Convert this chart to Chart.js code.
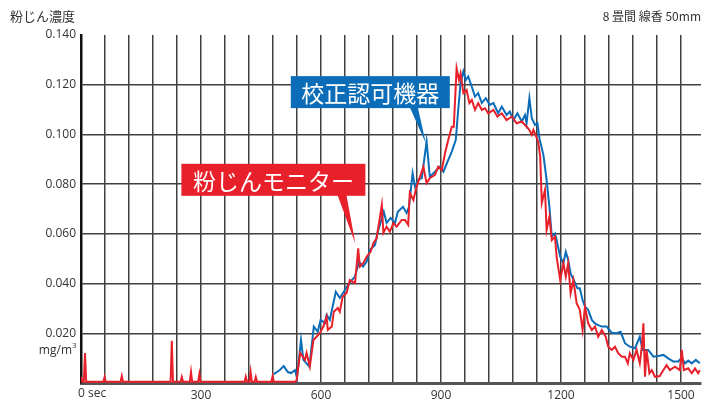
<!DOCTYPE html>
<html>
<head>
<meta charset="utf-8">
<script src="https://cdn.jsdelivr.net/npm/chart.js@4/dist/chart.umd.min.js"></script>
<style>
  html, body { margin: 0; padding: 0; background: #fff; }
  #wrap { width: 703px; height: 402px; position: relative; }
</style>
</head>
<body>
<div id="wrap"><canvas id="chart"></canvas></div>
<script>
// 粉じんモニター (red)
var redTimes = [0, 3, 7, 10, 13, 56, 59, 62, 99, 102, 105, 224, 227, 230, 249, 252, 255, 272, 275, 278, 293, 296, 299,
	409, 412, 415, 421, 424, 427, 434, 437, 440, 476, 479, 482, 536,
	539, 548, 560, 564, 572, 581, 589, 597, 606, 614, 617, 627, 632, 642, 647, 654, 664, 672, 685, 693, 697,
	706, 714, 724, 731, 739, 752, 756, 764, 772, 781, 789, 802, 810, 818, 822, 831, 839, 856, 864, 872,
	885, 893, 902, 910, 918, 927, 932, 939, 945, 949, 956, 964, 971, 977, 985, 993, 1002, 1010, 1018,
	1031, 1041, 1052, 1064, 1077, 1089, 1102, 1114, 1121, 1127, 1131, 1138, 1143, 1148, 1152, 1160,
	1164, 1171, 1177, 1185, 1189, 1198, 1206, 1212, 1218, 1224, 1231, 1239, 1247, 1254, 1260, 1268,
	1277, 1285, 1293, 1302, 1312, 1318, 1327, 1335, 1343, 1352, 1360, 1367, 1372, 1381, 1389, 1397,
	1402, 1406, 1410, 1414, 1421, 1427, 1435, 1447, 1456, 1464, 1472, 1485, 1497, 1502, 1507, 1518,
	1527, 1535, 1543, 1547];
var redValues = [0.0025, 0.0005, 0.0005, 0.0121, 0.0005, 0.0005, 0.0024, 0.0005, 0.0005, 0.0028, 0.0005, 0.0005, 0.017, 0.0005, 0.0005, 0.0024, 0.0005, 0.0005, 0.0045, 0.0005, 0.0005, 0.0036, 0.0005,
	0.0005, 0.0025, 0.0005, 0.0005, 0.0045, 0.0005, 0.0005, 0.0024, 0.0005, 0.0005, 0.0028, 0.0005, 0.0005,
	0.0012, 0.0121, 0.0093, 0.0121, 0.0066, 0.0173, 0.0186, 0.020, 0.0227, 0.0267, 0.0213, 0.0227, 0.0287, 0.0302, 0.0287, 0.0347, 0.0362, 0.0414, 0.0402, 0.0542, 0.0468,
	0.0483, 0.0508, 0.0528, 0.0562, 0.0582, 0.0716, 0.0604, 0.0629, 0.0609, 0.0643, 0.0629, 0.0656, 0.0656, 0.0636, 0.0765, 0.0736, 0.0790, 0.0870, 0.0804, 0.0824,
	0.0837, 0.0870, 0.0857, 0.0924, 0.0978, 0.1031, 0.1031, 0.1266, 0.1219, 0.1246, 0.1166, 0.1179, 0.1126, 0.1139, 0.1099, 0.1126, 0.1099, 0.1105, 0.1085,
	0.1099, 0.1072, 0.1085, 0.1058, 0.1072, 0.1045, 0.1052, 0.1031, 0.1018, 0.0998, 0.1018, 0.0991, 0.0971, 0.0911, 0.0724, 0.0777,
	0.0616, 0.0669, 0.0575, 0.0589, 0.0508, 0.0414, 0.0482, 0.0428, 0.0482, 0.0361, 0.0414, 0.0321, 0.0294, 0.0213, 0.0307, 0.0240,
	0.0213, 0.0227, 0.0186, 0.0213, 0.0186, 0.0146, 0.0133, 0.0146, 0.0120, 0.0106, 0.0106, 0.0079, 0.0120, 0.0093, 0.0133, 0.0079,
	0.0146, 0.0240, 0.0025, 0.0133, 0.0039, 0.0052, 0.0025, 0.0028, 0.0052, 0.0072, 0.0052, 0.0066, 0.0052, 0.0133, 0.0052, 0.0059,
	0.0039, 0.0059, 0.0039, 0.0052];

// 校正認可機器 (blue)
var blueTimes = [482, 497, 507, 517, 525, 535, 540, 550, 556, 571, 582, 592, 599, 610, 614, 622, 637, 647, 655, 665, 677, 685, 695,
	705, 714, 722, 735, 742, 757, 764, 774, 785, 792, 805, 814, 820, 829, 835, 843, 852, 864, 872,
	885, 897, 906, 918, 927, 937, 943, 949, 956, 962, 968, 977, 985, 993, 1002, 1012, 1022,
	1031, 1043, 1052, 1064, 1072, 1081, 1091, 1102, 1110, 1114, 1121, 1127, 1135, 1141, 1146, 1156,
	1164, 1171, 1177, 1185, 1189, 1198, 1206, 1212, 1218, 1224, 1232, 1241, 1247, 1254, 1260, 1268,
	1277, 1285, 1293, 1302, 1314, 1327, 1339, 1349, 1360, 1372, 1385, 1397, 1404, 1418, 1431, 1443,
	1456, 1468, 1481, 1493, 1502, 1510, 1518, 1527, 1537, 1547];
var blueValues = [0.0036, 0.0052, 0.0068, 0.0044, 0.0040, 0.0052, 0.0020, 0.0173, 0.0093, 0.0066, 0.0227, 0.0206, 0.0254, 0.0241, 0.0274, 0.0254, 0.0367, 0.0342, 0.0362, 0.0388, 0.0414, 0.0428, 0.0488,
	0.0468, 0.0488, 0.0535, 0.0555, 0.0609, 0.0689, 0.0644, 0.0664, 0.0644, 0.0689, 0.0709, 0.0684, 0.0709, 0.0844, 0.0790, 0.0817, 0.0824, 0.0971, 0.0830,
	0.0850, 0.0870, 0.0850, 0.0897, 0.0931, 0.0978, 0.1099, 0.1206, 0.1253, 0.1219, 0.1233, 0.1192, 0.1152, 0.1166, 0.1126, 0.1146, 0.1119,
	0.1126, 0.1085, 0.1112, 0.1078, 0.1092, 0.1058, 0.1085, 0.1052, 0.1078, 0.1045, 0.1146, 0.1065, 0.1038, 0.1045, 0.0985, 0.0918,
	0.0817, 0.0709, 0.0589, 0.0602, 0.0575, 0.0508, 0.0482, 0.0528, 0.0495, 0.0441, 0.0414, 0.0381, 0.0381, 0.0334, 0.0307, 0.0294,
	0.0254, 0.0240, 0.0233, 0.0227, 0.0227, 0.0202, 0.0200, 0.0206, 0.0160, 0.0146, 0.0140, 0.0186, 0.0133, 0.0133, 0.0106, 0.0109,
	0.0113, 0.0099, 0.0086, 0.0086, 0.0103, 0.0079, 0.0090, 0.0079, 0.0093, 0.0079];

var xGridSeconds = [0, 60, 120, 180, 240, 300, 360, 420, 480, 540, 600, 660, 720, 780, 840, 900, 960, 1020, 1080, 1140, 1200, 1260, 1320, 1380, 1440, 1500];
var xLabelSeconds = [300, 600, 900, 1200, 1500];
var yTicks = [0, 0.02, 0.04, 0.06, 0.08, 0.10, 0.12, 0.14];

var redLabel = '粉じんモニター';
var blueLabel = '校正認可機器';
var yTitle = '粉じん濃度';
var conditionText = '8 畳間 線香 50mm';

function toPoints(ts, vs) {
	var pts = [];
	for (var i = 0; i < ts.length; i++) pts.push({x: ts[i], y: vs[i]});
	return pts;
}

var RED = '#e8202a';
var BLUE = '#0b6db8';
var TEXT = '#333333';
var GRID = '#404040';
var FONT = '"Open Sans", "Noto Sans CJK JP", sans-serif';
var JPFONT = '"Noto Sans CJK JP", sans-serif';

function callout(ctx, tipX, tipY, box, baseL, baseR, color, text) {
	ctx.save();
	ctx.fillStyle = color;
	ctx.fillRect(box.x, box.y, box.w, box.h);
	ctx.beginPath();
	ctx.moveTo(baseL, box.y + box.h - 1);
	ctx.lineTo(baseR, box.y + box.h - 1);
	ctx.lineTo(tipX, tipY);
	ctx.closePath();
	ctx.fill();
	ctx.fillStyle = '#ffffff';
	ctx.font = '23px ' + JPFONT;
	ctx.textAlign = 'center';
	ctx.textBaseline = 'middle';
	ctx.fillText(text, box.x + box.w / 2, box.y + box.h / 2 + 1);
	ctx.restore();
}

var extras = {
	id: 'extras',
	afterDraw: function(chart) {
		var ctx = chart.ctx;
		var xs = chart.scales.x, ys = chart.scales.y;
		ctx.save();
		ctx.fillStyle = TEXT;
		ctx.font = '13px ' + JPFONT;
		ctx.textBaseline = 'middle';
		ctx.textAlign = 'left';
		ctx.fillText(yTitle, 10, 16);
		ctx.font = '12px ' + JPFONT;
		ctx.textAlign = 'right';
		ctx.fillText(conditionText, 701, 16);

		// unit under 0.020
		var uy = ys.getPixelForValue(0.02) + 17;
		ctx.font = '12px ' + FONT;
		ctx.textAlign = 'right';
		ctx.fillText('mg/m', 72, uy);
		ctx.font = '8px ' + FONT;
		ctx.textAlign = 'left';
		ctx.fillText('3', 72, uy - 5);

		// first x label
		ctx.font = '12px ' + FONT;
		ctx.textAlign = 'left';
		ctx.fillText('0 sec', xs.getPixelForValue(0) - 3, 394);
		ctx.restore();

		// callouts
		var rx = xs.getPixelForValue(686), ry = ys.getPixelForValue(0.056);
		callout(ctx, rx, ry, {x: rx - 174, y: ry - 80, w: 184, h: 32}, rx - 18, rx - 9, RED, redLabel);
		var bx = xs.getPixelForValue(862), by = ys.getPixelForValue(0.0965);
		callout(ctx, bx, by, {x: bx - 135, y: by - 67, w: 159, h: 32}, bx - 16, bx - 8, BLUE, blueLabel);
	}
};

var ctx = document.getElementById('chart');
new Chart(ctx, {
	type: 'line',
	data: {
		datasets: [{
			label: redLabel,
			data: toPoints(redTimes, redValues),
			borderColor: RED,
			borderWidth: 2,
			pointRadius: 0,
			tension: 0
		}, {
			label: blueLabel,
			data: toPoints(blueTimes, blueValues),
			borderColor: BLUE,
			borderWidth: 2,
			pointRadius: 0,
			tension: 0
		}]
	},
	options: {
		responsive: true,
		maintainAspectRatio: false,
		animation: false,
		layout: { padding: { left: 0, right: 2, top: 35, bottom: 0 } },
		plugins: {
			legend: { display: false },
			tooltip: { enabled: false }
		},
		scales: {
			x: {
				type: 'linear',
				min: 0,
				max: 1550,
				afterBuildTicks: function(scale) {
					scale.ticks = xGridSeconds.map(function(v) { return {value: v}; });
				},
				afterFit: function(scale) { scale.height = 19; },
				grid: {
					color: GRID,
					lineWidth: 1.5,
					drawTicks: false
				},
				border: { display: true, color: '#555555', width: 3 },
				ticks: {
					autoSkip: false,
					maxRotation: 0,
					padding: 5,
					color: TEXT,
					font: { family: FONT, size: 12 },
					callback: function(v) { return xLabelSeconds.indexOf(v) >= 0 ? String(v) : ''; }
				}
			},
			y: {
				min: 0,
				max: 0.14,
				afterBuildTicks: function(scale) {
					scale.ticks = yTicks.map(function(v) { return {value: v}; });
				},
				afterFit: function(scale) { scale.width = 81; },
				grid: {
					color: function(c) { return (c.tick && c.tick.value > 0.13) ? 'rgba(0,0,0,0)' : GRID; },
					lineWidth: 1.5,
					drawTicks: false
				},
				border: { display: true, color: '#111111', width: 2.5 },
				ticks: {
					padding: 5,
					color: TEXT,
					font: { family: FONT, size: 12 },
					callback: function(v) { return v === 0 ? '' : v.toFixed(3); }
				}
			}
		}
	},
	plugins: [extras]
});
</script>
</body>
</html>
